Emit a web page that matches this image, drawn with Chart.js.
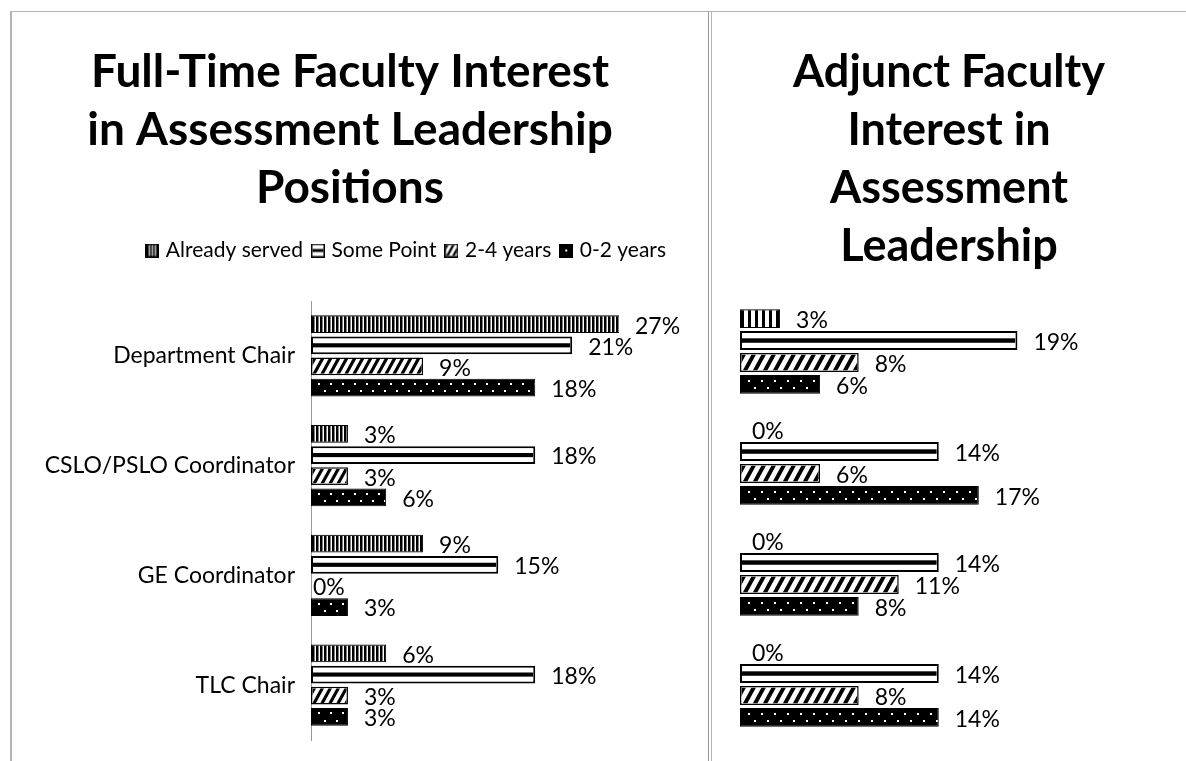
<!DOCTYPE html>
<html>
<head>
<meta charset="utf-8">
<script src="https://cdn.jsdelivr.net/npm/chart.js@4"></script>
<style>
  body { margin: 0; background: #fff; }
  .line { position: absolute; background: #b4b4b4; }
  .box { position: absolute; }
</style>
</head>
<body>
<div class="line" style="left:10px; top:11px; width:1176px; height:1px;"></div>
<div class="line" style="left:10px; top:11px; width:2px; height:750px;"></div>
<div class="line" style="left:708px; top:11px; width:1px; height:750px; background:#999;"></div>
<div class="line" style="left:711px; top:11px; width:1px; height:750px;"></div>
<div class="box" style="left:12px; top:12px; width:695px; height:749px;"><canvas id="fullTimeChart"></canvas></div>
<div class="box" style="left:712px; top:12px; width:474px; height:749px;"><canvas id="adjunctChart"></canvas></div>
<script>
const categories = ['Department Chair', 'CSLO/PSLO Coordinator', 'GE Coordinator', 'TLC Chair'];
const seriesNames = ['Already served', 'Some Point', '2-4 years', '0-2 years'];

// full-time faculty, percent
const fullTimeAlreadyServed = [27.3, 3.0, 9.1, 6.1];
const fullTimeSomePoint = [21.2, 18.2, 15.2, 18.2];
const fullTime2to4 = [9.1, 3.0, 0, 3.0];
const fullTime0to2 = [18.2, 6.1, 3.0, 3.0];

// adjunct faculty, percent
const adjunctAlreadyServed = [2.8, 0, 0, 0];
const adjunctSomePoint = [19.4, 13.9, 13.9, 13.9];
const adjunct2to4 = [8.3, 5.6, 11.1, 8.3];
const adjunct0to2 = [5.6, 16.7, 8.3, 13.9];

const FONT = 'Lato';
Chart.defaults.font.family = FONT;
Chart.defaults.color = '#000';

// pattern painters, drawn inside the bar's inner rectangle
const painters = {
  vertical(ctx, x, y, w, h, s) {
    ctx.fillStyle = '#fff';
    for (let px = x + s.vPeriod - s.vWhite; px < x + w; px += s.vPeriod) ctx.fillRect(px, y, s.vWhite, h);
  },
  horizontal(ctx, x, y, w, h) {
    ctx.fillStyle = '#000';
    const bh = h * 0.3;
    ctx.fillRect(x, y + (h - bh) / 2, w, bh);
  },
  diagonal(ctx, x, y, w, h, s) {
    ctx.fillStyle = '#000';
    const p = s.diag, sw = p * 0.45, shift = h * 0.55;
    for (let k = x - shift - p; k < x + w; k += p) {
      ctx.beginPath();
      ctx.moveTo(k, y + h);
      ctx.lineTo(k + sw, y + h);
      ctx.lineTo(k + sw + shift, y);
      ctx.lineTo(k + shift, y);
      ctx.closePath();
      ctx.fill();
    }
  },
  dots(ctx, x, y, w, h, s) {
    ctx.fillStyle = '#fff';
    const d = s.dot;
    for (let px = x + d / 2; px < x + w; px += d) {
      ctx.fillRect(Math.round(px), Math.round(y + h * 0.22), 2, 2);
      ctx.fillRect(Math.round(px + d / 2), Math.round(y + h * 0.68), 2, 2);
    }
  }
};
const patternKeys = ['vertical', 'horizontal', 'diagonal', 'dots'];
const fills = ['#000', '#fff', '#fff', '#000'];
const borders = [1, 2, 1.5, 1];

const patternPlugin = {
  id: 'barPatterns',
  afterDatasetDraw(chart, args, opts) {
    const { ctx, chartArea } = chart;
    const ds = chart.data.datasets[args.index];
    const draw = painters[ds.pattern];
    ctx.save();
    ctx.beginPath();
    ctx.rect(chartArea.left, chartArea.top, chartArea.width, chartArea.height);
    ctx.clip();
    args.meta.data.forEach(bar => {
      const { x, y, base, height } = bar.getProps(['x', 'y', 'base', 'height'], true);
      const bw = ds.borderWidth;
      const left = Math.min(x, base) + bw, right = Math.max(x, base) - bw;
      const top = y - height / 2 + bw, h = height - 2 * bw;
      if (right <= left) return;
      ctx.save();
      ctx.beginPath();
      ctx.rect(left, top, right - left, h);
      ctx.clip();
      draw(ctx, left, top, right - left, h, opts);
      ctx.restore();
    });
    ctx.restore();
  }
};

const labelPlugin = {
  id: 'barLabels',
  afterDatasetsDraw(chart, args, opts) {
    const { ctx, chartArea } = chart;
    ctx.save();
    ctx.font = opts.size + 'px ' + FONT;
    ctx.fillStyle = '#000';
    ctx.textAlign = 'left';
    ctx.textBaseline = 'middle';
    chart.data.datasets.forEach((ds, di) => {
      chart.getDatasetMeta(di).data.forEach((bar, i) => {
        const v = ds.data[i];
        const { x, y, base } = bar.getProps(['x', 'y', 'base'], true);
        const tx = v === 0 ? base + opts.zeroOffset : Math.min(x, chartArea.right) + opts.gap;
        ctx.fillText(Math.round(v) + '%', tx, y + 2);
      });
    });
    ctx.restore();
  }
};

function makeDatasets(values) {
  return values.map((data, i) => ({
    label: seriesNames[i],
    data: data,
    pattern: patternKeys[i],
    backgroundColor: fills[i],
    borderColor: '#000',
    borderWidth: borders[i],
    borderSkipped: false,
    inflateAmount: 0,
    categoryPercentage: 0.77,
    barPercentage: 0.84
  }));
}

// drop the label overflow padding so the plot keeps its full height
const noPad = s => { s.paddingTop = 0; s.paddingBottom = 0; };

// small legend swatches
const legendIcons = patternKeys.map((key, i) => {
  const c = document.createElement('canvas');
  c.width = 14; c.height = 14;
  const g = c.getContext('2d');
  g.fillStyle = '#000';
  g.fillRect(0, 0, 14, 14);
  g.fillStyle = fills[i];
  g.fillRect(1.5, 1.5, 11, 11);
  if (key === 'dots') {
    g.fillStyle = '#fff';
    g.fillRect(6, 6, 2, 2);
  } else if (key === 'vertical') {
    g.fillStyle = '#fff';
    [3.5, 6.5, 9.5].forEach(px => g.fillRect(px, 1.5, 1.2, 11));
  } else if (key === 'horizontal') {
    g.fillStyle = '#000';
    g.fillRect(1.5, 5.5, 11, 3);
  } else {
    g.save();
    g.beginPath(); g.rect(1.5, 1.5, 11, 11); g.clip();
    painters.diagonal(g, 1.5, 1.5, 11, 11, { diag: 6 });
    g.restore();
  }
  return c;
});

new Chart(document.getElementById('fullTimeChart'), {
  type: 'bar',
  data: {
    labels: categories,
    datasets: makeDatasets([fullTimeAlreadyServed, fullTimeSomePoint, fullTime2to4, fullTime0to2])
  },
  options: {
    indexAxis: 'y',
    responsive: true,
    maintainAspectRatio: false,
    animation: false,
    layout: { padding: { left: 10, right: 29, top: 0, bottom: 21 } },
    scales: {
      x: {
        position: 'top', min: 0, max: 25,
        grid: { display: false, drawTicks: false },
        border: { display: false },
        ticks: { display: false },
        afterFit: s => { s.height = 30; }
      },
      y: {
        grid: { display: false, drawTicks: false },
        border: { display: true, color: '#999', width: 1 },
        ticks: { font: { size: 23 }, padding: 16, color: '#000' },
        afterFit: s => { s.width = 289; noPad(s); }
      },
      spacer: {
        type: 'linear', position: 'right',
        grid: { display: false, drawTicks: false },
        border: { display: false },
        ticks: { display: false },
        afterFit: s => { s.width = 59; noPad(s); }
      }
    },
    plugins: {
      title: {
        display: true,
        text: ['Full-Time Faculty Interest', 'in Assessment Leadership', 'Positions'],
        font: { size: 46, weight: 'bold', lineHeight: 58 / 46 },
        color: '#000',
        padding: { top: 31, bottom: 11 }
      },
      legend: {
        display: true,
        position: 'top',
        align: 'end',
        labels: {
          usePointStyle: true,
          pointStyleWidth: 6,
          boxHeight: 14,
          padding: 12,
          font: { size: 21 },
          color: '#000',
          generateLabels: chart => chart.data.datasets.map((ds, i) => ({
            text: ds.label, pointStyle: legendIcons[i], fillStyle: '#000',
            strokeStyle: '#000', lineWidth: 0, hidden: false, datasetIndex: i, fontColor: '#000'
          }))
        }
      },
      tooltip: { enabled: false },
      barPatterns: { vPeriod: 4, vWhite: 1.5, diag: 8, dot: 12 },
      barLabels: { size: 23, gap: 16, zeroOffset: 2 }
    }
  },
  plugins: [patternPlugin, labelPlugin]
});

new Chart(document.getElementById('adjunctChart'), {
  type: 'bar',
  data: {
    labels: categories,
    datasets: makeDatasets([adjunctAlreadyServed, adjunctSomePoint, adjunct2to4, adjunct0to2]).map(ds => Object.assign(ds, {
      categoryPercentage: 0.79, barPercentage: 0.86
    }))
  },
  options: {
    indexAxis: 'y',
    responsive: true,
    maintainAspectRatio: false,
    animation: false,
    layout: { padding: { left: 0, right: 0, top: 0, bottom: 21 } },
    scales: {
      x: {
        min: 0, max: 20,
        display: false
      },
      y: {
        grid: { display: false, drawTicks: false },
        border: { display: false },
        ticks: { display: false },
        afterFit: s => { s.width = 28; noPad(s); }
      },
      spacer: {
        type: 'linear', position: 'right',
        grid: { display: false, drawTicks: false },
        border: { display: false },
        ticks: { display: false },
        afterFit: s => { s.width = 160; noPad(s); }
      }
    },
    plugins: {
      title: {
        display: true,
        text: ['Adjunct Faculty', 'Interest in', 'Assessment', 'Leadership'],
        font: { size: 45, weight: 'bold', lineHeight: 58 / 45 },
        color: '#000',
        padding: { top: 31, bottom: 21 }
      },
      legend: { display: false },
      tooltip: { enabled: false },
      barPatterns: { vPeriod: 7, vWhite: 4, diag: 10, dot: 13 },
      barLabels: { size: 23, gap: 16, zeroOffset: 12 }
    }
  },
  plugins: [patternPlugin, labelPlugin]
});
</script>
</body>
</html>
